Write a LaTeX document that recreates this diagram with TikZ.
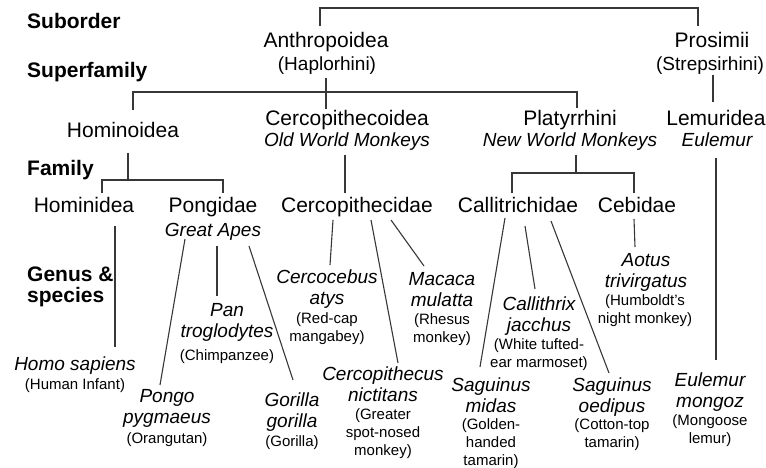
\documentclass[tikz,border=0pt]{standalone}
\usepackage{fontspec}
\setmainfont{Liberation Sans}
\usepackage{xcolor}
\definecolor{linegray}{RGB}{55,55,55}
\usepackage{tikz}

\tikzset{
  rank/.style={font=\bfseries\fontsize{21}{21}\selectfont, anchor=north west, inner sep=0pt, align=left},
  taxon/.style={font=\fontsize{21}{23}\selectfont, anchor=north, inner sep=0pt},
  taxonalt/.style={font=\fontsize{19}{21}\selectfont, anchor=north, inner sep=0pt},
  taxonnote/.style={font=\itshape\fontsize{19}{21}\selectfont, anchor=north, inner sep=0pt},
  latin/.style={font=\itshape\fontsize{19}{21}\selectfont, anchor=north, inner sep=0pt, align=center},
  common/.style={font=\fontsize{15}{18}\selectfont, anchor=north, inner sep=0pt, align=center},
  link/.style={line width=1.1pt, linegray}
}

\begin{document}
\begin{tikzpicture}[x=1pt, y=-1pt]
    \useasboundingbox (0,0) rectangle (766,468);

    % Rank labels
    \node[rank] (suborder) at (27,13) {Suborder};
    \node[rank] (superfam) at (27,62) {Superfamily};
    \node[rank] (family) at (27,160) {Family};
    \node[rank] (genus) at (27,267) {Genus \&\\species};

    % Suborders
    \node[taxon] (anthro) at (326,32) {Anthropoidea};
    \node[taxonalt] (haplo) at (327,57) {(Haplorhini)};
    \node[taxon] (prosimii) at (712,32) {Prosimii};
    \node[taxonalt] (strep) at (710,57) {(Strepsirhini)};

    % Superfamilies
    \node[taxon] (hominoid) at (123,122) {Hominoidea};
    \node[taxon] (cercoid) at (347,110) {Cercopithecoidea};
    \node[taxonnote] (oldworld) at (347,133) {Old World Monkeys};
    \node[taxon] (platy) at (570,110) {Platyrrhini};
    \node[taxonnote] (newworld) at (570,133) {New World Monkeys};
    \node[taxon] (lemur) at (716,110) {Lemuridea};
    \node[taxonnote] (eulemur) at (717,133) {Eulemur};

    % Families
    \node[taxon] (hominid) at (84,197) {Hominidea};
    \node[taxon] (pongid) at (213,197) {Pongidae};
    \node[taxonnote] (apes) at (213,223) {Great Apes};
    \node[taxon] (cercid) at (357,197) {Cercopithecidae};
    \node[taxon] (callit) at (518,197) {Callitrichidae};
    \node[taxon] (cebid) at (637,197) {Cebidae};

    % Genus and species
    \node[latin] (homo) at (75,357) {Homo sapiens};
    \node[common] (homo-c) at (75,378) {(Human Infant)};
    \node[latin] (pongo) at (167,389) {Pongo\\pygmaeus};
    \node[common] (pongo-c) at (167,432) {(Orangutan)};
    \node[latin] (pan) at (227,303) {Pan\\troglodytes};
    \node[common] (pan-c) at (227,349) {(Chimpanzee)};
    \node[latin] (gorilla) at (292,393) {Gorilla\\gorilla};
    \node[common] (gorilla-c) at (292,435) {(Gorilla)};
    \node[latin] (cercocebus) at (327,270) {Cercocebus\\atys};
    \node[common] (cercocebus-c) at (327,312) {(Red-cap\\mangabey)};
    \node[latin] (macaca) at (442,272) {Macaca\\mulatta};
    \node[common] (macaca-c) at (442,313) {(Rhesus\\monkey)};
    \node[latin] (cercopith) at (383,367) {Cercopithecus\\nictitans};
    \node[common] (cercopith-c) at (383,408) {(Greater\\spot-nosed\\monkey)};
    \node[latin] (callithrix) at (539,297) {Callithrix\\jacchus};
    \node[common] (callithrix-c) at (539,338) {(White tufted-\\ear marmoset)};
    \node[latin] (midas) at (491,378) {Saguinus\\midas};
    \node[common] (midas-c) at (491,418) {(Golden-\\handed\\tamarin)};
    \node[latin] (oedipus) at (612,378) {Saguinus\\oedipus};
    \node[common] (oedipus-c) at (612,418) {(Cotton-top\\tamarin)};
    \node[latin] (aotus) at (646,253) {Aotus\\trivirgatus};
    \node[common] (aotus-c) at (645,294) {(Humboldt's\\night monkey)};
    \node[latin] (mongoz) at (710,373) {Eulemur\\mongoz};
    \node[common] (mongoz-c) at (710,414) {(Mongoose\\lemur)};

    % Suborder bracket
    \draw[link] ([shift={(-6,-6)}]anthro.north) -- ++(0,-18) -| ([shift={(-14,-6)}]prosimii.north);

    % Superfamily bracket
    \draw[link] ([shift={(-1,21)}]haplo.north) -- ([shift={(-21,-1)}]cercoid.north);
    \draw[link] ([shift={(10,-12)}]hominoid.north) -- ++(0,-18) -| ([shift={(7,-2)}]platy.north);
    \draw[link] ([shift={(3,18)}]strep.north) -- ([shift={(-3,-8)}]lemur.north);

    % Family brackets
    \draw[link] ([shift={(5,31)}]hominoid.north) -- ++(0,27);
    \draw[link] ([shift={(18,-4)}]hominid.north) -- ++(0,-13) -| ([shift={(10,-4)}]pongid.north);
    \draw[link] ([shift={(-2,22)}]oldworld.north) -- ([shift={(-12,-4)}]cercid.north);
    \draw[link] ([shift={(6,22)}]newworld.north) -- ++(0,18);
    \draw[link] ([shift={(-6,-4)}]callit.north) -- ++(0,-20) -| ([shift={(-3,-4)}]cebid.north);
    \draw[link] ([shift={(-1,25)}]eulemur.north) -- ([shift={(6,-13)}]mongoz.north);

    % Species links
    \draw[link] ([shift={(31,29)}]hominid.north) -- ([shift={(40,-10)}]homo.north);
    \draw[link] ([shift={(-28,16)}]apes.north) -- ([shift={(-7,-4)}]pongo.north);
    \draw[link] ([shift={(4,23)}]apes.north) -- ([shift={(-10,-7)}]pan.north);
    \draw[link] ([shift={(36,23)}]apes.north) -- ([shift={(1,-13)}]gorilla.north);
    \draw[link] ([shift={(-24,23)}]cercid.north) -- ([shift={(3,-5)}]cercocebus.north);
    \draw[link] ([shift={(14,23)}]cercid.north) -- ([shift={(15,-4)}]cercopith.north);
    \draw[link] ([shift={(34,23)}]cercid.north) -- ([shift={(-18,-6)}]macaca.north);
    \draw[link] ([shift={(-13,21)}]callit.north) -- ([shift={(-11,-11)}]midas.north);
    \draw[link] ([shift={(7,29)}]callit.north) -- ([shift={(-4,-8)}]callithrix.north);
    \draw[link] ([shift={(33,24)}]callit.north) -- ([shift={(-3,-5)}]oedipus.north);
    \draw[link] ([shift={(-3,22)}]cebid.north) -- ([shift={(-11,-6)}]aotus.north);
\end{tikzpicture}
\end{document}
